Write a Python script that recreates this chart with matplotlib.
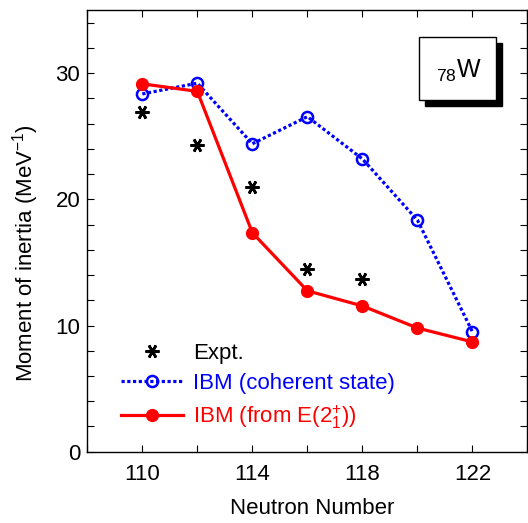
import matplotlib
matplotlib.use('Agg')
import matplotlib.pyplot as plt
from matplotlib.patches import Rectangle
from matplotlib.ticker import MultipleLocator, FixedLocator

plt.rcParams['font.family'] = ['Liberation Sans', 'DejaVu Sans']
plt.rcParams['mathtext.fontset'] = 'custom'
plt.rcParams['mathtext.rm'] = 'Liberation Sans'
plt.rcParams['mathtext.it'] = 'Liberation Sans'

# data
neutrons = [110, 112, 114, 116, 118, 120, 122]
expt_n = [110, 112, 114, 116, 118]
expt_moi = [26.95, 24.3, 20.95, 14.45, 13.7]
coherent_moi = [28.35, 29.2, 24.4, 26.55, 23.2, 18.35, 9.5]
e2_moi = [29.15, 28.55, 17.35, 12.75, 11.55, 9.8, 8.7]

FS = 16

fig = plt.figure(figsize=(5.28, 5.23), dpi=100)
ax = fig.add_axes([0.1653, 0.1363, 0.8337, 0.8446])

ax.plot(expt_n, expt_moi, linestyle='none', marker=(6, 2, 90), markersize=10,
        markeredgewidth=1.9, color='black', label='Expt.')
ax.plot(neutrons, coherent_moi, color='#0000ff', linewidth=2.3, dashes=(1, 0.8),
        dash_capstyle='butt', marker='o', markersize=8, markerfacecolor='none',
        markeredgewidth=1.8, label='IBM (coherent state)')
ax.plot(neutrons, e2_moi, color='#ff0000', linewidth=2.3, marker='o', markersize=8.5,
        label='IBM (from E(2$^{+}_{1}$))')

ax.set_xlim(108, 124)
ax.set_ylim(0, 35)
ax.xaxis.set_major_locator(FixedLocator([110, 114, 118, 122]))
ax.xaxis.set_minor_locator(MultipleLocator(2))
ax.yaxis.set_major_locator(MultipleLocator(10))
ax.yaxis.set_minor_locator(MultipleLocator(2))
ax.tick_params(which='both', direction='in', top=True, right=True, length=5, width=0.8)
ax.tick_params(axis='x', which='major', labelsize=FS, pad=8.5)
ax.tick_params(axis='y', which='major', labelsize=FS, pad=5)
for s in ax.spines.values():
    s.set_linewidth(1.0)

ax.set_xlabel('Neutron Number', fontsize=FS)
ax.set_ylabel('Moment of inertia (MeV$^{-1}$)', fontsize=FS)
ax.xaxis.set_label_coords(0.51, -0.104)
ax.yaxis.set_label_coords(-0.104, 0.45)

leg = ax.legend(loc='upper left', bbox_to_anchor=(0.076, 0.247), frameon=False,
                fontsize=FS, handlelength=2.8, handletextpad=0.45,
                labelspacing=0.42, borderpad=0, borderaxespad=0)
for txt, c in zip(leg.get_texts(), ['black', '#0000ff', '#ff0000']):
    txt.set_color(c)

# element label box with drop shadow
bx, by, bw, bh = 0.7535, 0.7964, 0.175, 0.1425
ax.add_patch(Rectangle((bx + 0.0136, by - 0.0136), bw, bh, transform=ax.transAxes,
                       facecolor='black', edgecolor='black', zorder=5))
ax.add_patch(Rectangle((bx, by), bw, bh, transform=ax.transAxes,
                       facecolor='white', edgecolor='black', linewidth=1.0, zorder=6))
ax.text(bx + bw / 2 + 0.004, by + bh / 2 - 0.005, '$_{78}$W', transform=ax.transAxes,
        ha='center', va='center', fontsize=18, zorder=7)

fig.savefig('out.png', dpi=100)
